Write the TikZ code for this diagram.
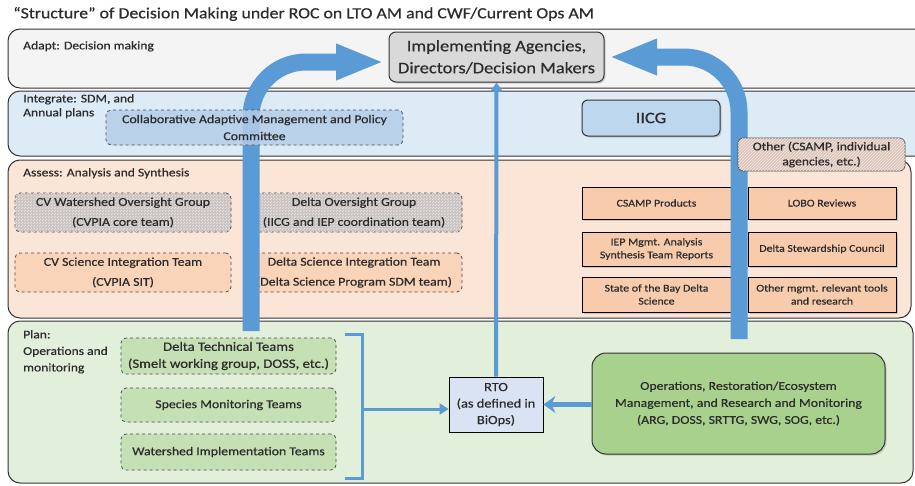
\documentclass[tikz,border=0pt]{standalone}
\usepackage{fontspec}
\setmainfont{Carlito}[FakeStretch=1.15, FakeBold=0.5]
\usetikzlibrary{arrows.meta,patterns,shadows}
\definecolor{adaptfill}{HTML}{F4F4F4}
\definecolor{integfill}{HTML}{DDEBF7}
\definecolor{assessfill}{HTML}{FBE5D6}
\definecolor{planfill}{HTML}{E2EFDA}
\definecolor{arrowblue}{HTML}{5B9BD5}
\definecolor{implfill}{HTML}{D9D9D9}
\definecolor{iicgfill}{HTML}{BDD7EE}
\definecolor{camfill}{HTML}{B4CDE8}
\definecolor{peach}{HTML}{F8CBAD}
\definecolor{peachlight}{HTML}{F9D4B9}
\definecolor{greenbox}{HTML}{C5E0B4}
\definecolor{greenops}{HTML}{A9D18E}
\definecolor{rtofill}{HTML}{DAE3F3}
\definecolor{hatchgray}{HTML}{CBC3C0}
\definecolor{hatchpink}{HTML}{DDC5BA}
\definecolor{txt}{HTML}{2B2B2B}
\newcommand{\fs}[2]{\fontsize{#1}{#2}\selectfont}
\tikzset{
  band/.style={draw=black!80, line width=1pt, rounded corners=12pt},
  bandlabel/.style={anchor=north west, inner sep=0pt, text=txt, align=left},
  dashbox/.style={draw=black!70, dashed, line width=0.8pt, rounded corners=5pt, align=center, text=txt, inner sep=1pt},
  hatchbox/.style={dashbox, fill=hatchgray, postaction={pattern=north east lines, pattern color=white!60!hatchgray}},
  solidbox/.style={draw=black, line width=0.8pt, align=center, text=txt, inner sep=1pt, font=\fs{10.3}{13},
     drop shadow={shadow xshift=1.5pt, shadow yshift=-1.5pt, opacity=0.35}},
  bigarrow/.style={draw=arrowblue, line width=17pt, rounded corners=55pt,
     -{Triangle[length=48pt,width=33pt]}},
  thinarrow/.style={draw=arrowblue, line width=4pt, -{Triangle[length=9pt,width=12pt]}},
}
\begin{document}
\begin{tikzpicture}[x=1pt,y=-1pt]
\clip (0,0) rectangle (915,485);
\fill[white] (0,0) rectangle (915,485);

% title
\node[anchor=west, inner sep=0pt, text=txt, font=\fs{15.5}{18}] (title) at (13,14)
  {“Structure” of Decision Making under ROC on LTO AM and CWF/Current Ops AM};

% bands
\draw[band, fill=adaptfill] (8,29) rectangle (945,88);
\draw[band, fill=integfill] (8,91) rectangle (945,156);
\draw[band, fill=assessfill] (8,160) rectangle (911,318);
\draw[band, fill=planfill] (8,321) rectangle (913,483);

\node[bandlabel, font=\fs{11.8}{14}] (lAdapt) at (23,41) {Adapt: Decision making};
\node[bandlabel, font=\fs{11.8}{14}] (lInteg) at (23,94) {Integrate: SDM, and\\Annual plans};
\node[bandlabel, font=\fs{11.8}{14}] (lAssess) at (23,168) {Assess: Analysis and Synthesis};
\node[bandlabel, font=\fs{11.8}{16.5}] (lPlan) at (23,330) {Plan:\\Operations and\\monitoring};

% adapt / integrate
\node[draw=black!80, line width=1pt, fill=implfill, rounded corners=7pt, minimum width=215pt, minimum height=50pt,
  align=center, text=txt, font=\fs{16}{22}, drop shadow={shadow xshift=1.5pt, shadow yshift=-1.5pt, opacity=0.35}]
  (impl) at (496.5,57) {Implementing Agencies,\\Directors/Decision Makers};
\node[draw=black!80, line width=1pt, fill=iicgfill, rounded corners=6pt, minimum width=138pt, minimum height=36pt,
  text=txt, font=\fs{16}{18}, drop shadow={shadow xshift=1.5pt, shadow yshift=-1.5pt, opacity=0.35}]
  (iicg) at (651,118) {IICG};

% assess dashed boxes
\node[hatchbox, minimum width=216pt, minimum height=39pt, font=\fs{12}{20}] (cvwog) at (123,212.5)
  {CV Watershed Oversight Group\\(CVPIA core team)};
\node[hatchbox, minimum width=216pt, minimum height=39pt, font=\fs{12}{20}] (dog) at (354,212.5)
  {Delta Oversight Group\\(IICG and IEP coordination team)};
\node[dashbox, fill=peachlight, minimum width=216pt, minimum height=39pt, font=\fs{12}{20}] (cvsit) at (123,272.5)
  {CV Science Integration Team\\(CVPIA SIT)};
\node[dashbox, fill=peachlight, minimum width=216pt, minimum height=39pt, font=\fs{12}{20}] (dsit) at (354,272.5)
  {Delta Science Integration Team\\(Delta Science Program SDM team)};

% assess solid boxes
\node[solidbox, fill=peach, minimum width=149pt, minimum height=32pt] (csamp) at (656.5,203) {CSAMP Products};
\node[solidbox, fill=peach, minimum width=148pt, minimum height=32pt] (lobo) at (822,203) {LOBO Reviews};
\node[solidbox, fill=peach, minimum width=149pt, minimum height=34pt] (iep) at (656.5,249) {IEP Mgmt. Analysis\\Synthesis Team Reports};
\node[solidbox, fill=peach, minimum width=148pt, minimum height=34pt] (dsc) at (822,249) {Delta Stewardship Council};
\node[solidbox, fill=peach, minimum width=149pt, minimum height=35pt] (sob) at (656.5,294.5) {State of the Bay Delta\\Science};
\node[solidbox, fill=peach, minimum width=148pt, minimum height=35pt] (omr) at (822,294.5) {Other mgmt. relevant tools\\and research};

% plan boxes
\node[dashbox, fill=greenbox, minimum width=215pt, minimum height=36pt, font=\fs{12.8}{17}] (dtt) at (228.5,356)
  {Delta Technical Teams\\(Smelt working group, DOSS, etc.)};
\node[dashbox, fill=greenbox, minimum width=215pt, minimum height=34pt, font=\fs{12}{17}] (smt) at (228.5,405)
  {Species Monitoring Teams};
\node[dashbox, fill=greenbox, minimum width=215pt, minimum height=36pt, font=\fs{12}{17}] (wit) at (228.5,452)
  {Watershed Implementation Teams};
\node[draw=black, line width=0.8pt, fill=rtofill, minimum width=94pt, minimum height=55pt, align=center, inner sep=1pt,
  text=txt, font=\fs{12.5}{16.5}] (rto) at (496,404.5) {RTO\\(as defined in\\BiOps)};
\node[draw=black!80, line width=1pt, fill=greenops, rounded corners=14pt, minimum width=293pt, minimum height=101pt,
  align=center, text=txt, font=\fs{12}{17}, drop shadow={shadow xshift=1.5pt, shadow yshift=-1.5pt, opacity=0.35}]
  (ops) at (738.5,403.5) {Operations, Restoration/Ecosystem\\Management, and Research and Monitoring\\(ARG, DOSS, SRTTG, SWG, SOG, etc.)};

% bracket and arrows
\coordinate (bt) at (345,334);
\coordinate (bb) at (345,478);
\coordinate (bm) at (362,409);
\draw[arrowblue, line width=3pt] (bt) -- (362,334) -- (362,478) -- (bb);
\draw[draw=arrowblue, line width=3pt, -{Triangle[length=9pt,width=11pt]}] (bm) -- (rto.west |- bm);
\draw[draw=arrowblue, line width=5pt, -{Stealth[length=12pt,width=17pt,inset=4pt]}] (ops.west |- rto.east) -- (rto.east);
\draw[thinarrow] (rto.north) -- (impl.south);

\coordinate (la) at (251,331);
\coordinate (ra) at (739,339);
\coordinate (lt) at (384,62);
\coordinate (rt) at (609,57);
\draw[bigarrow] (la) |- (lt);
\draw[bigarrow] (ra) |- (rt);

% boxes drawn over the big arrows
\node[dashbox, fill=camfill, fill opacity=0.85, text opacity=1, minimum width=297pt, minimum height=35pt, font=\fs{12}{17}] (cam) at (254.5,127.5)
  {Collaborative Adaptive Management and Policy\\Committee};
\node[draw=black!70, line width=0.8pt, rounded corners=5pt, fill=hatchpink,
  postaction={pattern=north east lines, pattern color=white!60!hatchpink},
  minimum width=167pt, minimum height=33pt, align=center, text=txt, inner sep=1pt, font=\fs{11.8}{15}]
  (other) at (821.5,154.5) {Other (CSAMP, individual\\agencies, etc.)};
\end{tikzpicture}
\end{document}
